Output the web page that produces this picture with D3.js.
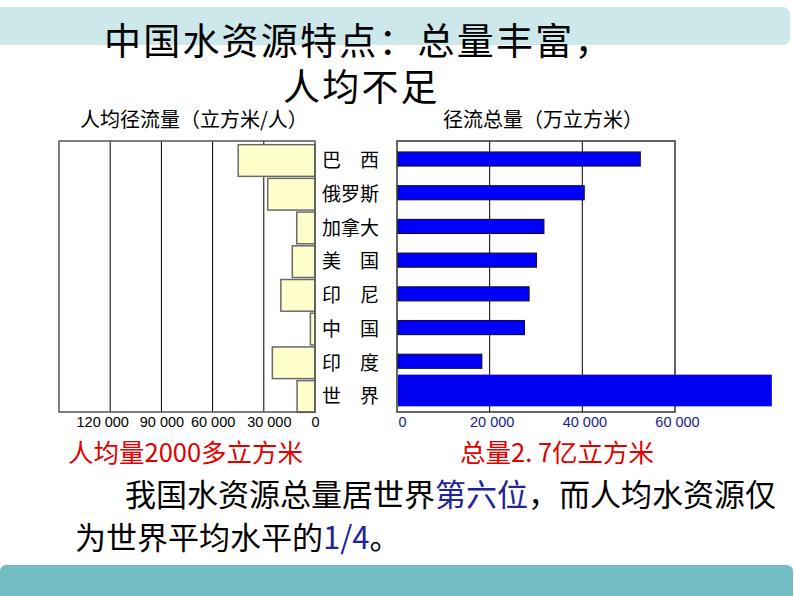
<!DOCTYPE html>
<html><head><meta charset="utf-8">
<script src="https://cdn.jsdelivr.net/npm/d3@7"></script>
<style>
html,body{margin:0;padding:0;background:#fff;}
svg{display:block;font-family:"Noto Sans CJK SC","Liberation Sans",sans-serif;}
</style></head>
<body>
<script>
const categories = ["巴　西","俄罗斯","加拿大","美　国","印　尼","中　国","印　度","世　界"];
const perCapita = [45000, 27700, 10700, 13300, 20000, 2700, 25000, 10500];
const totalRunoff = [52500, 40400, 31700, 30100, 28500, 27500, 18300, 80900];
const leftTicks = [0, 30000, 60000, 90000, 120000];
const rightTicks = [0, 20000, 40000, 60000];

(function () {
const W = 794, H = 596;
const svg = d3.select("body").append("svg").attr("width", W).attr("height", H);

// banners
svg.append("rect").attr("x", -10).attr("y", 7).attr("width", 800).attr("height", 38).attr("rx", 7).attr("fill", "#cde8ea");
svg.append("rect").attr("x", 0).attr("y", 565).attr("width", 793).attr("height", 40).attr("rx", 6).attr("fill", "#72bec4");

// title (one text, two lines)
const title = svg.append("text").attr("font-size", 37).attr("fill", "#000").attr("letter-spacing", 2.2);
title.append("tspan").attr("x", 104).attr("y", 55).text("中国水资源特点：总量丰富，");
title.append("tspan").attr("x", 283).attr("y", 101).text("人均不足");

const fmt = d => d === 0 ? "0" : d3.format(",")(d).replace(/,/g, " ");

const plotTop = 141, plotBottom = 412;
const y = d3.scaleBand().domain(categories).range([144, 413]).paddingInner(0.06).paddingOuter(0.02);

// ---- left chart ----
const xl = d3.scaleLinear().domain([0, 150000]).range([315, 59]);
svg.append("text").attr("x", 80).attr("y", 127).attr("font-size", 20).text("人均径流量（立方米/人）");
const gl = svg.append("g");
gl.selectAll("line.grid").data(leftTicks.filter(d => d > 0)).join("line")
  .attr("x1", d => xl(d)).attr("x2", d => xl(d)).attr("y1", plotTop).attr("y2", plotBottom)
  .attr("stroke", "#000").attr("stroke-width", 1);
gl.selectAll("rect.bar").data(categories).join("rect")
  .attr("x", (d, i) => xl(perCapita[i])).attr("y", d => y(d))
  .attr("width", (d, i) => xl(0) - xl(perCapita[i])).attr("height", y.bandwidth())
  .attr("fill", "#ffffcc").attr("stroke", "#6a6a6a").attr("stroke-width", 1.5);
gl.append("rect").attr("x", xl(150000)).attr("y", plotTop).attr("width", xl(0) - xl(150000)).attr("height", plotBottom - plotTop)
  .attr("fill", "none").attr("stroke", "#555").attr("stroke-width", 1.5);
const axL = svg.append("g").attr("transform", `translate(0,${plotBottom})`)
  .call(d3.axisBottom(xl).tickValues(leftTicks).tickFormat(fmt).tickSize(0).tickPadding(5));
axL.select(".domain").remove();
axL.selectAll("text").attr("font-size", 14.5).attr("fill", "#000").attr("font-family", "Liberation Sans, Arial, sans-serif")
  .attr("dx", d => d === 120000 ? -8 : d === 30000 ? 5 : 0);

// category labels
svg.selectAll("text.cat").data(categories).join("text")
  .attr("x", 322).attr("y", d => y(d) + y.bandwidth() / 2).attr("dy", "0.36em")
  .attr("font-size", 19).attr("fill", "#000").text(d => d);

// ---- right chart ----
const xr = d3.scaleLinear().domain([0, 60000]).range([397, 675]);
svg.append("text").attr("x", 443).attr("y", 127).attr("font-size", 20).text("径流总量（万立方米）");
const gr = svg.append("g");
gr.selectAll("line.grid").data(rightTicks.filter(d => d > 0 && d < 60000)).join("line")
  .attr("x1", d => xr(d)).attr("x2", d => xr(d)).attr("y1", plotTop).attr("y2", plotBottom)
  .attr("stroke", "#000").attr("stroke-width", 1);
gr.append("rect").attr("x", xr(0)).attr("y", plotTop).attr("width", xr(60000) - xr(0)).attr("height", plotBottom - plotTop)
  .attr("fill", "none").attr("stroke", "#333").attr("stroke-width", 1.5);
const last = categories.length - 1;
gr.selectAll("rect.bar").data(categories).join("rect")
  .attr("x", xr(0) + 1)
  .attr("y", (d, i) => i === last ? y(d) - 6 : y(d) + y.bandwidth() / 2 - 8.5)
  .attr("width", (d, i) => xr(totalRunoff[i]) - xr(0) - 1)
  .attr("height", (d, i) => i === last ? y.bandwidth() : 14)
  .attr("fill", (d, i) => i === last ? "#0000f0" : "#0000ff")
  .attr("stroke", (d, i) => i === last ? "none" : "#101040").attr("stroke-width", 1.2);
const axR = svg.append("g").attr("transform", `translate(0,${plotBottom})`)
  .call(d3.axisBottom(xr).tickValues(rightTicks).tickFormat(fmt).tickSize(0).tickPadding(5));
axR.select(".domain").remove();
axR.selectAll("text").attr("font-size", 14.5).attr("fill", "#1c1c8c").attr("font-family", "Liberation Sans, Arial, sans-serif")
  .attr("dx", (d) => d === 0 ? 5 : 2);

// red notes
svg.append("text").attr("x", 68).attr("y", 462).attr("font-size", 25.5).attr("fill", "#e00000").text("人均量2000多立方米");
svg.append("text").attr("x", 460).attr("y", 462).attr("font-size", 25.5).attr("fill", "#e00000").text("总量2. 7亿立方米");

// body text
const t1 = svg.append("text").attr("x", 125).attr("y", 506).attr("font-size", 31).attr("fill", "#000");
t1.append("tspan").text("我国水资源总量居世界");
t1.append("tspan").attr("fill", "#22229a").text("第六位");
t1.append("tspan").text("，而人均水资源仅");
const t2 = svg.append("text").attr("x", 75).attr("y", 549).attr("font-size", 31).attr("fill", "#000");
t2.append("tspan").text("为世界平均水平的");
t2.append("tspan").attr("fill", "#22229a").text("1/4");
t2.append("tspan").text("。");
})();
</script>
</body></html>
